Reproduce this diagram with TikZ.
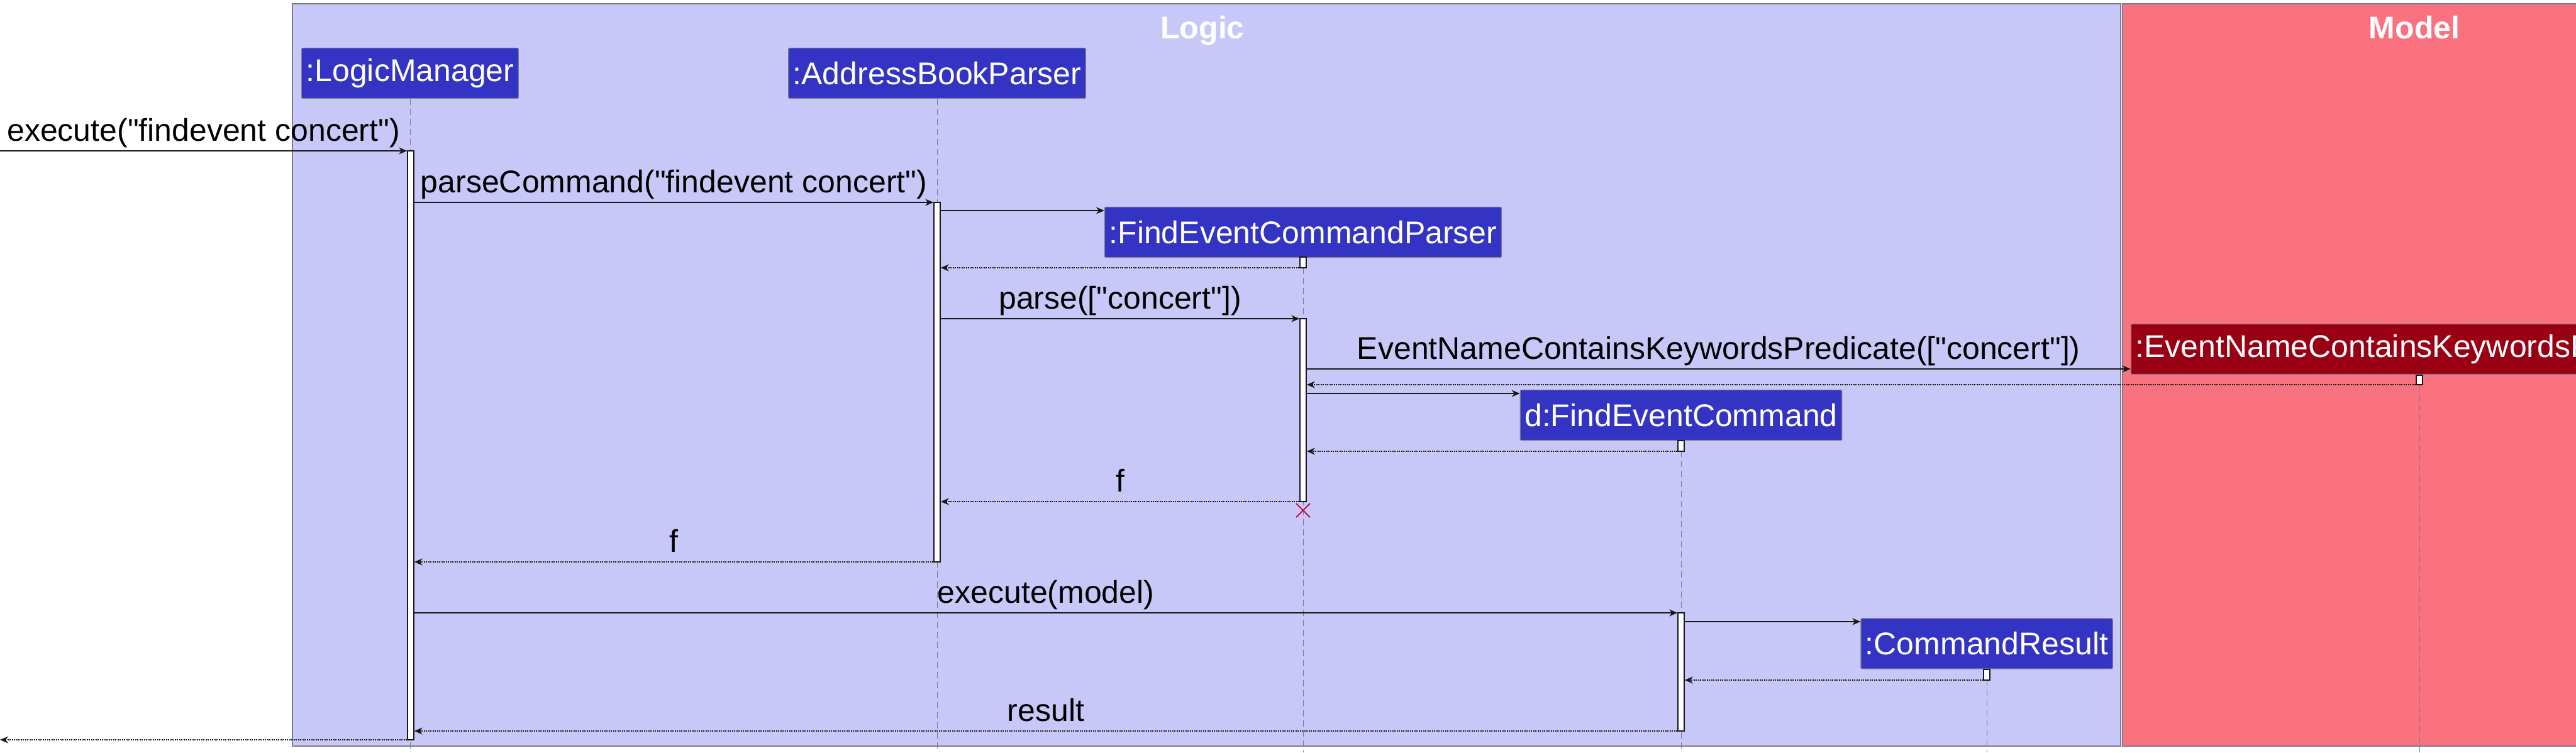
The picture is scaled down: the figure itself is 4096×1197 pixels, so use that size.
\documentclass[tikz,border=0pt]{standalone}
\usepackage{fontspec}
\newfontfamily\arialfam{Liberation Sans}
\usetikzlibrary{arrows.meta,shapes.misc}
\definecolor{logicbg}{HTML}{C8C8F8}
\definecolor{modelbg}{HTML}{FA7280}
\definecolor{partblue}{HTML}{3333C4}
\definecolor{partred}{HTML}{990014}
\definecolor{framegray}{HTML}{7A7A8C}
\definecolor{xred}{HTML}{C0104A}
\definecolor{ink}{HTML}{181818}
\tikzset{
  txt/.style={font=\arialfam\fontsize{50pt}{60pt}\selectfont},
  part/.style={txt, text=white, fill=partblue, draw=framegray, line width=1.2pt,
    rounded corners=2pt, inner xsep=7pt, inner ysep=0pt, minimum height=80pt},
  predpart/.style={part, fill=partred},
  act/.style={draw=ink, fill=white, line width=1.5pt, minimum width=10pt, inner sep=0pt},
  life/.style={draw=framegray, line width=1pt, dash pattern=on 10pt off 6pt},
  msg/.style={draw=ink, line width=1.5pt, -{Stealth[length=13pt,width=11pt,inset=4pt]}},
  ret/.style={msg, dash pattern=on 2pt off 1.5pt},
  lbl/.style={txt, text=black, anchor=base, yshift=16pt, inner sep=0pt},
  title/.style={font=\arialfam\fontsize{50pt}{60pt}\selectfont\bfseries, text=white, anchor=base}
}
\begin{document}
\begin{tikzpicture}[x=1pt,y=-1pt]
\useasboundingbox (0,0) rectangle (4096,1197);
\clip (0,0) rectangle (4096,1197);
% boxes (frames)
\fill[white] (0,0) rectangle (4096,1197);
\draw[fill=logicbg, draw=framegray, line width=1.5pt] (465,6) rectangle (3372,1187);
\draw[fill=modelbg, draw=framegray, line width=1.5pt] (3375,6) rectangle (4320,1187);
\node[title] (tlogic) at (1912,61) {Logic};
\node[title] (tmodel) at (3839,61) {Model};
% participants
\node[part] (lm) at (652,116.5) {:LogicManager};
\node[part] (abp) at (1490,116.5) {:AddressBookParser};
\node[part] (fecp) at (2072,369.5) {:FindEventCommandParser};
\node[predpart] (pred) at (3847,555.5) {:EventNameContainsKeywordsPredicate};
\node[part] (dfec) at (2673,660.5) {d:FindEventCommand};
\node[part] (cr) at (3159,1024) {:CommandResult};
% lifelines
\foreach \p in {lm,abp,fecp,pred,dfec,cr}{
  \draw[life] (\p.south) -- (\p.south |- 0,1197);
}
% activations
\node[act, minimum height=937pt] (lmA) at (653,708.5) {};
\node[act, minimum height=572pt] (abpA) at (1490,608) {};
\node[act, minimum height=17pt] (fecpA1) at (2072,417.5) {};
\node[act, minimum height=291pt] (fecpA2) at (2072,652.5) {};
\node[act, minimum height=15pt] (predA) at (3847,604.5) {};
\node[act, minimum height=17pt] (dfecA1) at (2673,709.5) {};
\node[act, minimum height=188pt] (dfecA2) at (2673,1069) {};
\node[act, minimum height=17pt] (crA) at (3159,1073.5) {};
\node[draw=xred, line width=2pt, cross out, minimum size=20pt, inner sep=0pt] (fecpX) at (2072,812) {};
% external ends
\coordinate (extIn) at (0,240);
\coordinate (extOut) at (0,1177);
% messages
\draw[msg] (extIn) -- (lmA.west |- extIn) node[lbl, midway] {execute("findevent concert")};
\draw[msg] (lmA.east |- 0,322) -- (abpA.west |- 0,322) node[lbl, midway] {parseCommand("findevent concert")};
\draw[msg] (abpA.east |- 0,335) -- (fecp.west |- 0,335);
\draw[ret] (fecpA1.west |- 0,426) -- (abpA.east |- 0,426);
\draw[msg] (abpA.east |- 0,507) -- (fecpA2.west |- 0,507) node[lbl, midway] {parse(["concert"])};
\draw[msg] (fecpA2.east |- 0,587) -- (pred.west |- 0,587) node[lbl, midway] {EventNameContainsKeywordsPredicate(["concert"])};
\draw[ret] (predA.west |- 0,612) -- (fecpA2.east |- 0,612);
\draw[msg] (fecpA2.east |- 0,626) -- (dfec.west |- 0,626);
\draw[ret] (dfecA1.west |- 0,718) -- (fecpA2.east |- 0,718);
\draw[ret] (fecpA2.west |- 0,798) -- (abpA.east |- 0,798) node[lbl, midway] {f};
\draw[ret] (abpA.west |- 0,894) -- (lmA.east |- 0,894) node[lbl, midway] {f};
\draw[msg] (lmA.east |- 0,975) -- (dfecA2.west |- 0,975) node[lbl, midway] {execute(model)};
\draw[msg] (dfecA2.east |- 0,989) -- (cr.west |- 0,989);
\draw[ret] (crA.west |- 0,1082) -- (dfecA2.east |- 0,1082);
\draw[ret] (dfecA2.west |- 0,1163) -- (lmA.east |- 0,1163) node[lbl, midway] {result};
\draw[ret] (lmA.west |- extOut) -- (extOut);
\end{tikzpicture}
\end{document}
